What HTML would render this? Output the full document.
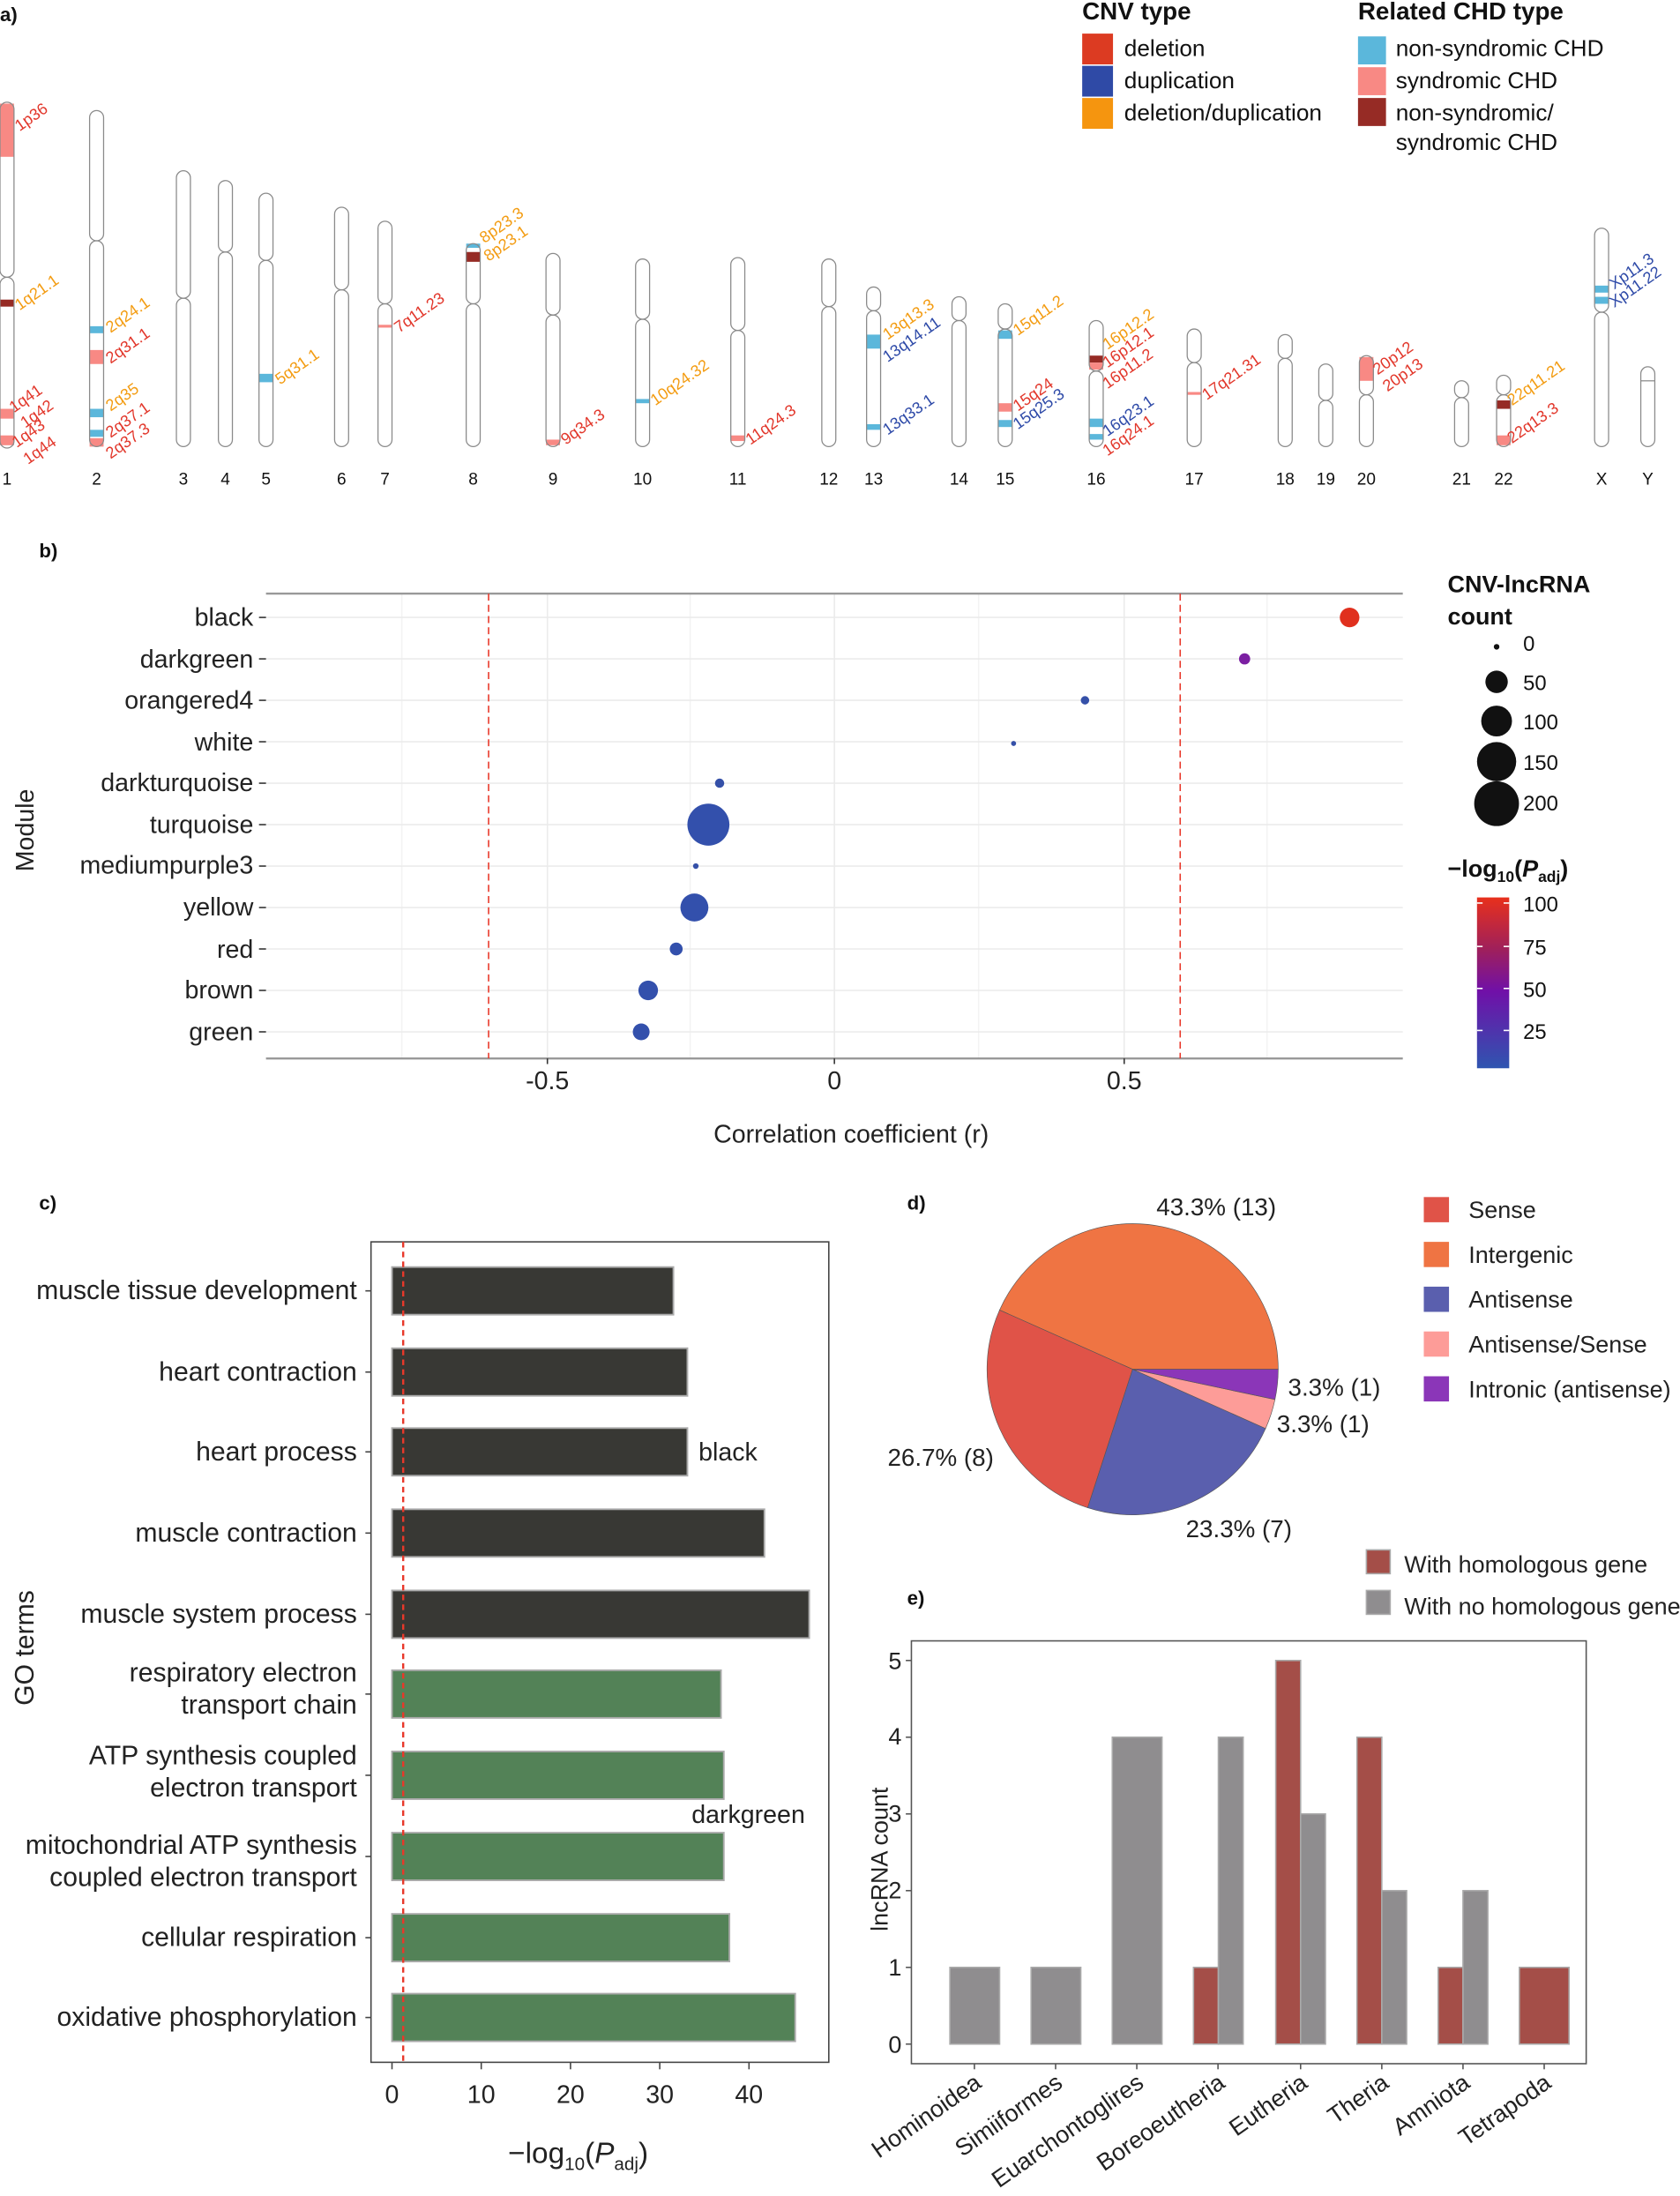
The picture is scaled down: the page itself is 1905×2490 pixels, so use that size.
<!DOCTYPE html>
<html><head><meta charset="utf-8"><style>
html,body{margin:0;padding:0;background:#fff}
svg{display:block}
text{font-family:"Liberation Sans",sans-serif}
</style></head><body>
<svg width="1905" height="2490" viewBox="0 0 1200 1568.5" preserveAspectRatio="none" xmlns="http://www.w3.org/2000/svg">
<rect width="1200" height="1568.5" fill="#fff"/>
<g font-weight="bold" font-size="14" fill="#111">
<text x="0" y="15">a)</text><text x="28" y="398">b)</text><text x="28" y="864">c)</text><text x="648" y="864">d)</text><text x="648" y="1146">e)</text>
</g>
<g font-size="16.5" fill="#111">
<text x="773" y="14" font-weight="bold" font-size="17.5">CNV type</text>
<rect x="773" y="24" width="22" height="22" fill="#dc3b22"/><text x="803" y="40">deletion</text>
<rect x="773" y="47" width="22" height="22" fill="#2f4aa6"/><text x="803" y="63">duplication</text>
<rect x="773" y="70" width="22" height="22" fill="#f5950f"/><text x="803" y="86">deletion/duplication</text>
<text x="970" y="14" font-weight="bold" font-size="17.5">Related CHD type</text>
<rect x="970" y="26" width="20" height="20" fill="#5bb7db"/><text x="997" y="40">non-syndromic CHD</text>
<rect x="970" y="48" width="20" height="20" fill="#f88984"/><text x="997" y="63">syndromic CHD</text>
<rect x="970" y="70" width="20" height="20" fill="#962b25"/><text x="997" y="86">non-syndromic/</text><text x="997" y="107">syndromic CHD</text>
</g>
<g>
<rect x="0" y="74" width="10" height="38" fill="#f88984"/>
<rect x="0" y="214" width="10" height="5" fill="#962b25"/>
<rect x="0" y="292" width="10" height="7" fill="#f88984"/>
<rect x="0" y="311" width="10" height="7" fill="#f88984"/>
<rect x="64" y="233" width="10" height="5" fill="#5bb7db"/>
<rect x="64" y="250" width="10" height="10" fill="#f88984"/>
<rect x="64" y="292" width="10" height="6" fill="#5bb7db"/>
<rect x="64" y="307" width="10" height="5" fill="#5bb7db"/>
<rect x="64" y="313" width="10" height="6" fill="#f88984"/>
<rect x="185" y="267" width="10" height="6" fill="#5bb7db"/>
<rect x="270" y="232" width="10" height="2" fill="#f88984"/>
<rect x="333" y="174" width="10" height="3" fill="#5bb7db"/>
<rect x="333" y="180" width="10" height="7" fill="#962b25"/>
<rect x="390" y="314" width="10" height="4" fill="#f88984"/>
<rect x="454" y="285" width="10" height="3" fill="#5bb7db"/>
<rect x="522" y="311" width="10" height="4" fill="#f88984"/>
<rect x="619" y="239" width="10" height="10" fill="#5bb7db"/>
<rect x="619" y="303" width="10" height="4" fill="#5bb7db"/>
<rect x="713" y="236" width="10" height="6" fill="#5bb7db"/>
<rect x="713" y="288" width="10" height="6" fill="#f88984"/>
<rect x="713" y="300" width="10" height="5" fill="#5bb7db"/>
<rect x="778" y="254" width="10" height="5" fill="#962b25"/>
<rect x="778" y="259" width="10" height="5" fill="#f88984"/>
<rect x="778" y="299" width="10" height="6" fill="#5bb7db"/>
<rect x="778" y="310" width="10" height="4" fill="#5bb7db"/>
<rect x="848" y="280" width="10" height="2" fill="#f88984"/>
<rect x="971" y="255" width="10" height="17" fill="#f88984"/>
<rect x="1069" y="286" width="10" height="6" fill="#962b25"/>
<rect x="1069" y="311" width="10" height="7" fill="#f88984"/>
<rect x="1139" y="204" width="10" height="5" fill="#5bb7db"/>
<rect x="1139" y="212" width="10" height="5" fill="#5bb7db"/>
</g>
<g fill="none" stroke="#8a8a8a" stroke-width="0.8">
<rect x="0" y="73" width="10" height="125" rx="5"/><rect x="0" y="198" width="10" height="122" rx="5"/>
<rect x="64" y="79" width="10" height="93" rx="5"/><rect x="64" y="172" width="10" height="147" rx="5"/>
<rect x="126" y="122" width="10" height="91" rx="5"/><rect x="126" y="213" width="10" height="106" rx="5"/>
<rect x="156" y="129" width="10" height="51" rx="5"/><rect x="156" y="180" width="10" height="139" rx="5"/>
<rect x="185" y="138" width="10" height="48" rx="5"/><rect x="185" y="186" width="10" height="133" rx="5"/>
<rect x="239" y="148" width="10" height="59" rx="5"/><rect x="239" y="207" width="10" height="112" rx="5"/>
<rect x="270" y="158" width="10" height="59" rx="5"/><rect x="270" y="217" width="10" height="102" rx="5"/>
<rect x="333" y="174" width="10" height="43" rx="5"/><rect x="333" y="217" width="10" height="102" rx="5"/>
<rect x="390" y="181" width="10" height="44" rx="5"/><rect x="390" y="225" width="10" height="94" rx="5"/>
<rect x="454" y="185" width="10" height="43" rx="5"/><rect x="454" y="228" width="10" height="91" rx="5"/>
<rect x="522" y="184" width="10" height="52" rx="5"/><rect x="522" y="236" width="10" height="83" rx="5"/>
<rect x="587" y="185" width="10" height="34" rx="5"/><rect x="587" y="219" width="10" height="100" rx="5"/>
<rect x="619" y="205" width="10" height="17" rx="5"/><rect x="619" y="222" width="10" height="97" rx="5"/>
<rect x="680" y="212" width="10" height="17" rx="5"/><rect x="680" y="229" width="10" height="90" rx="5"/>
<rect x="713" y="217" width="10" height="18" rx="5"/><rect x="713" y="235" width="10" height="84" rx="5"/>
<rect x="778" y="229" width="10" height="36" rx="5"/><rect x="778" y="265" width="10" height="54" rx="5"/>
<rect x="848" y="235" width="10" height="24" rx="5"/><rect x="848" y="259" width="10" height="60" rx="5"/>
<rect x="913" y="239" width="10" height="17" rx="5"/><rect x="913" y="256" width="10" height="63" rx="5"/>
<rect x="942" y="260" width="10" height="26" rx="5"/><rect x="942" y="286" width="10" height="33" rx="5"/>
<rect x="971" y="254" width="10" height="28" rx="5"/><rect x="971" y="282" width="10" height="37" rx="5"/>
<rect x="1039" y="272" width="10" height="12" rx="5"/><rect x="1039" y="284" width="10" height="35" rx="5"/>
<rect x="1069" y="268" width="10" height="14" rx="5"/><rect x="1069" y="282" width="10" height="37" rx="5"/>
<rect x="1139" y="163" width="10" height="60" rx="5"/><rect x="1139" y="223" width="10" height="96" rx="5"/>
<rect x="1172" y="262" width="10" height="57" rx="5"/><line x1="1172" y1="272" x2="1182" y2="272"/>
</g>
<g font-size="12" fill="#111" text-anchor="middle">
<text x="5" y="346">1</text><text x="69" y="346">2</text><text x="131" y="346">3</text><text x="161" y="346">4</text><text x="190" y="346">5</text><text x="244" y="346">6</text><text x="275" y="346">7</text><text x="338" y="346">8</text><text x="395" y="346">9</text><text x="459" y="346">10</text><text x="527" y="346">11</text><text x="592" y="346">12</text><text x="624" y="346">13</text><text x="685" y="346">14</text><text x="718" y="346">15</text><text x="783" y="346">16</text><text x="853" y="346">17</text><text x="918" y="346">18</text><text x="947" y="346">19</text><text x="976" y="346">20</text><text x="1044" y="346">21</text><text x="1074" y="346">22</text><text x="1144" y="346">X</text><text x="1177" y="346">Y</text>
</g>
<g font-size="11.5">
<g fill="#e2372b">
<text transform="translate(14,94) rotate(-35)">1p36</text>
<text transform="translate(10,295) rotate(-35)">1q41</text>
<text transform="translate(18,306) rotate(-35)">1q42</text>
<text transform="translate(12,320) rotate(-35)">1q43</text>
<text transform="translate(20,332) rotate(-35)">1q44</text>
<text transform="translate(79,260) rotate(-35)">2q31.1</text>
<text transform="translate(79,313) rotate(-35)">2q37.1</text>
<text transform="translate(79,328) rotate(-35)">2q37.3</text>
<text transform="translate(285,238) rotate(-35)">7q11.23</text>
<text transform="translate(404,318) rotate(-35)">9q34.3</text>
<text transform="translate(536,318) rotate(-35)">11q24.3</text>
<text transform="translate(727,294) rotate(-35)">15q24</text>
<text transform="translate(791,263) rotate(-35)">16p12.1</text>
<text transform="translate(791,278) rotate(-35)">16p11.2</text>
<text transform="translate(791,326) rotate(-35)">16q24.1</text>
<text transform="translate(862,286) rotate(-35)">17q21.31</text>
<text transform="translate(984,268) rotate(-35)">20p12</text>
<text transform="translate(991,280) rotate(-35)">20p13</text>
<text transform="translate(1080,317) rotate(-35)">22q13.3</text>
</g>
<g fill="#f39c12">
<text transform="translate(14,222) rotate(-35)">1q21.1</text>
<text transform="translate(79,238) rotate(-35)">2q24.1</text>
<text transform="translate(79,294) rotate(-35)">2q35</text>
<text transform="translate(200,275) rotate(-35)">5q31.1</text>
<text transform="translate(346,174) rotate(-35)">8p23.3</text>
<text transform="translate(349,187) rotate(-35)">8p23.1</text>
<text transform="translate(468,290) rotate(-35)">10q24.32</text>
<text transform="translate(634,243) rotate(-35)">13q13.3</text>
<text transform="translate(727,240) rotate(-35)">15q11.2</text>
<text transform="translate(791,250) rotate(-35)">16p12.2</text>
<text transform="translate(1080,290) rotate(-35)">22q11.21</text>
</g>
<g fill="#2e4aa8">
<text transform="translate(634,259) rotate(-35)">13q14.11</text>
<text transform="translate(634,311) rotate(-35)">13q33.1</text>
<text transform="translate(727,307) rotate(-35)">15q25.3</text>
<text transform="translate(791,312) rotate(-35)">16q23.1</text>
<text transform="translate(1153,207) rotate(-35)">Xp11.3</text>
<text transform="translate(1153,220) rotate(-35)">Xp11.22</text>
</g>
</g>

<!-- Panel b -->
<g stroke="#ebebeb" stroke-width="1">
<line x1="287" y1="424" x2="287" y2="756" stroke="#f3f3f3"/><line x1="493" y1="424" x2="493" y2="756" stroke="#f3f3f3"/><line x1="699" y1="424" x2="699" y2="756" stroke="#f3f3f3"/><line x1="905" y1="424" x2="905" y2="756" stroke="#f3f3f3"/>
<line x1="391" y1="424" x2="391" y2="756"/><line x1="596" y1="424" x2="596" y2="756"/><line x1="803" y1="424" x2="803" y2="756"/>
<line x1="190" y1="441" x2="1002" y2="441"/><line x1="190" y1="470.6" x2="1002" y2="470.6"/><line x1="190" y1="500.2" x2="1002" y2="500.2"/><line x1="190" y1="529.8" x2="1002" y2="529.8"/><line x1="190" y1="559.4" x2="1002" y2="559.4"/><line x1="190" y1="589" x2="1002" y2="589"/><line x1="190" y1="618.6" x2="1002" y2="618.6"/><line x1="190" y1="648.2" x2="1002" y2="648.2"/><line x1="190" y1="677.8" x2="1002" y2="677.8"/><line x1="190" y1="707.4" x2="1002" y2="707.4"/><line x1="190" y1="737" x2="1002" y2="737"/>
</g>
<line x1="190" y1="424" x2="1002" y2="424" stroke="#999" stroke-width="1.5"/>
<line x1="190" y1="756" x2="1002" y2="756" stroke="#999" stroke-width="1.5"/>
<line x1="349" y1="424" x2="349" y2="756" stroke="#e8382a" stroke-dasharray="5,3"/>
<line x1="843" y1="424" x2="843" y2="756" stroke="#e8382a" stroke-dasharray="5,3"/>
<g>
<circle cx="964" cy="441" r="7" fill="#e0301e"/>
<circle cx="889" cy="470.6" r="4" fill="#7b1fa2"/>
<circle cx="775" cy="500.2" r="3" fill="#3550a8"/>
<circle cx="724" cy="531" r="1.8" fill="#3550a8"/>
<circle cx="514" cy="559.4" r="3.3" fill="#3550a8"/>
<circle cx="506" cy="589" r="15" fill="#3350ac"/>
<circle cx="497" cy="618.6" r="2" fill="#3550a8"/>
<circle cx="496" cy="648.2" r="10" fill="#3350ac"/>
<circle cx="483" cy="677.8" r="4.6" fill="#3350ac"/>
<circle cx="463" cy="707.4" r="7" fill="#3350ac"/>
<circle cx="458" cy="737" r="6" fill="#3350ac"/>
</g>
<g font-size="18" fill="#222" text-anchor="end">
<text x="181" y="447">black</text><text x="181" y="477">darkgreen</text><text x="181" y="506">orangered4</text><text x="181" y="536">white</text><text x="181" y="565">darkturquoise</text><text x="181" y="595">turquoise</text><text x="181" y="624">mediumpurple3</text><text x="181" y="654">yellow</text><text x="181" y="684">red</text><text x="181" y="713">brown</text><text x="181" y="743">green</text>
</g>
<g stroke="#333"><line x1="185" y1="441" x2="190" y2="441"/><line x1="185" y1="470.6" x2="190" y2="470.6"/><line x1="185" y1="500.2" x2="190" y2="500.2"/><line x1="185" y1="529.8" x2="190" y2="529.8"/><line x1="185" y1="559.4" x2="190" y2="559.4"/><line x1="185" y1="589" x2="190" y2="589"/><line x1="185" y1="618.6" x2="190" y2="618.6"/><line x1="185" y1="648.2" x2="190" y2="648.2"/><line x1="185" y1="677.8" x2="190" y2="677.8"/><line x1="185" y1="707.4" x2="190" y2="707.4"/><line x1="185" y1="737" x2="190" y2="737"/>
<line x1="391" y1="756" x2="391" y2="760"/><line x1="596" y1="756" x2="596" y2="760"/><line x1="803" y1="756" x2="803" y2="760"/></g>
<g font-size="18" fill="#222" text-anchor="middle">
<text x="391" y="778">-0.5</text><text x="596" y="778">0</text><text x="803" y="778">0.5</text>
<text x="608" y="816">Correlation coefficient (r)</text>
<text transform="translate(24,593) rotate(-90)">Module</text>
</g>
<g fill="#111" font-size="17">
<text x="1034" y="423" font-weight="bold">CNV-lncRNA</text>
<text x="1034" y="446" font-weight="bold">count</text>
<circle cx="1069" cy="462" r="2" fill="#111"/><text x="1088" y="465" font-size="15">0</text>
<circle cx="1069" cy="487" r="8" fill="#111"/><text x="1088" y="493" font-size="15">50</text>
<circle cx="1069" cy="515" r="11" fill="#111"/><text x="1088" y="521" font-size="15">100</text>
<circle cx="1069" cy="544" r="14" fill="#111"/><text x="1088" y="550" font-size="15">150</text>
<circle cx="1069" cy="574" r="16" fill="#111"/><text x="1088" y="579" font-size="15">200</text>
<text x="1034" y="626" font-weight="bold">−log<tspan font-size="11" dy="4">10</tspan><tspan dy="-4">(</tspan><tspan font-style="italic">P</tspan><tspan font-size="11" dy="4">adj</tspan><tspan dy="-4">)</tspan></text>
</g>
<defs><linearGradient id="cg" x1="0" y1="0" x2="0" y2="1">
<stop offset="0" stop-color="#e8301c"/><stop offset="0.3" stop-color="#a0205a"/><stop offset="0.55" stop-color="#7010a8"/><stop offset="1" stop-color="#2f55b0"/></linearGradient></defs>
<rect x="1055" y="641" width="23" height="122" fill="url(#cg)"/>
<g stroke="#fff" stroke-width="1"><line x1="1055" y1="645" x2="1059" y2="645"/><line x1="1074" y1="645" x2="1078" y2="645"/><line x1="1055" y1="676" x2="1059" y2="676"/><line x1="1074" y1="676" x2="1078" y2="676"/><line x1="1055" y1="706" x2="1059" y2="706"/><line x1="1074" y1="706" x2="1078" y2="706"/><line x1="1055" y1="736" x2="1059" y2="736"/><line x1="1074" y1="736" x2="1078" y2="736"/></g>
<g font-size="15" fill="#111"><text x="1088" y="651">100</text><text x="1088" y="682">75</text><text x="1088" y="712">50</text><text x="1088" y="742">25</text></g>

<!-- Panel c -->
<rect x="265" y="887" width="327" height="586" fill="#fff" stroke="#444" stroke-width="1"/>
<g stroke="#aaa" stroke-width="1.2">
<rect x="280" y="905" width="201" height="34" fill="#383834"/>
<rect x="280" y="963" width="211" height="34" fill="#383834"/>
<rect x="280" y="1020" width="211" height="34" fill="#383834"/>
<rect x="280" y="1078" width="266" height="34" fill="#383834"/>
<rect x="280" y="1136" width="298" height="34" fill="#383834"/>
<rect x="280" y="1193" width="235" height="34" fill="#538257"/>
<rect x="280" y="1251" width="237" height="34" fill="#538257"/>
<rect x="280" y="1309" width="237" height="34" fill="#538257"/>
<rect x="280" y="1367" width="241" height="34" fill="#538257"/>
<rect x="280" y="1424" width="288" height="34" fill="#538257"/>
</g>
<line x1="288" y1="887" x2="288" y2="1473" stroke="#e8382a" stroke-width="1.5" stroke-dasharray="4,3"/>
<g stroke="#444"><line x1="261" y1="922" x2="265" y2="922"/><line x1="261" y1="980" x2="265" y2="980"/><line x1="261" y1="1037" x2="265" y2="1037"/><line x1="261" y1="1095" x2="265" y2="1095"/><line x1="261" y1="1153" x2="265" y2="1153"/><line x1="261" y1="1210" x2="265" y2="1210"/><line x1="261" y1="1268" x2="265" y2="1268"/><line x1="261" y1="1326" x2="265" y2="1326"/><line x1="261" y1="1384" x2="265" y2="1384"/><line x1="261" y1="1441" x2="265" y2="1441"/>
<line x1="280" y1="1473" x2="280" y2="1478"/><line x1="343.75" y1="1473" x2="343.75" y2="1478"/><line x1="407.5" y1="1473" x2="407.5" y2="1478"/><line x1="471.25" y1="1473" x2="471.25" y2="1478"/><line x1="535" y1="1473" x2="535" y2="1478"/></g>
<g font-size="19" fill="#222" text-anchor="end">
<text x="255" y="928">muscle tissue development</text>
<text x="255" y="986">heart contraction</text>
<text x="255" y="1043">heart process</text>
<text x="255" y="1101">muscle contraction</text>
<text x="255" y="1159">muscle system process</text>
<text x="255" y="1201">respiratory electron</text><text x="255" y="1224">transport chain</text>
<text x="255" y="1260">ATP synthesis coupled</text><text x="255" y="1283">electron transport</text>
<text x="255" y="1324">mitochondrial ATP synthesis</text><text x="255" y="1347">coupled electron transport</text>
<text x="255" y="1390">cellular respiration</text>
<text x="255" y="1447">oxidative phosphorylation</text>
</g>
<g font-size="18" fill="#222">
<text x="499" y="1043">black</text><text x="494" y="1302">darkgreen</text>
</g>
<g font-size="18" fill="#222" text-anchor="middle">
<text x="280" y="1502">0</text><text x="343.75" y="1502">10</text><text x="407.5" y="1502">20</text><text x="471.25" y="1502">30</text><text x="535" y="1502">40</text>
<text x="413" y="1545" font-size="21">−log<tspan font-size="13" dy="5">10</tspan><tspan dy="-5">(</tspan><tspan font-style="italic">P</tspan><tspan font-size="13" dy="5">adj</tspan><tspan dy="-5">)</tspan></text>
<text transform="translate(24,1177) rotate(-90)" font-size="19">GO terms</text>
</g>

<!-- Panel d pie -->
<g stroke="#555" stroke-width="0.4">
<path d="M809,978 L714,935.7 A104,104 0 0 1 913,978 Z" fill="#ef7443"/>
<path d="M809,978 L776.9,1076.9 A104,104 0 0 1 714,935.7 Z" fill="#e05348"/>
<path d="M809,978 L904,1020.3 A104,104 0 0 1 776.9,1076.9 Z" fill="#5a5fae"/>
<path d="M809,978 L910.7,999.6 A104,104 0 0 1 904,1020.3 Z" fill="#fd9c98"/>
<path d="M809,978 L913,978 A104,104 0 0 1 910.7,999.6 Z" fill="#8b36b8"/>
</g>
<g font-size="17.5" fill="#222">
<text x="826" y="868">43.3% (13)</text>
<text x="920" y="997">3.3% (1)</text>
<text x="912" y="1023">3.3% (1)</text>
<text x="634" y="1047">26.7% (8)</text>
<text x="847" y="1098">23.3% (7)</text>
</g>
<g font-size="17" fill="#222">
<rect x="1017" y="855" width="18" height="18" fill="#e05348"/><text x="1049" y="870">Sense</text>
<rect x="1017" y="887" width="18" height="18" fill="#ef7443"/><text x="1049" y="902">Intergenic</text>
<rect x="1017" y="919" width="18" height="18" fill="#5a5fae"/><text x="1049" y="934">Antisense</text>
<rect x="1017" y="951" width="18" height="18" fill="#fd9c98"/><text x="1049" y="966">Antisense/Sense</text>
<rect x="1017" y="983" width="18" height="18" fill="#8b36b8"/><text x="1049" y="998">Intronic (antisense)</text>
</g>

<!-- Panel e -->
<g font-size="17" fill="#222">
<rect x="976" y="1107" width="17" height="17" fill="#a44e48" stroke="#aaa"/><text x="1003" y="1123">With homologous gene</text>
<rect x="976" y="1136" width="17" height="17" fill="#8f8d8f" stroke="#aaa"/><text x="1003" y="1153">With no homologous gene</text>
</g>
<rect x="651" y="1172" width="482" height="302" fill="#fff" stroke="#555"/>
<g stroke="#aaa" stroke-width="1">
<rect x="678.5" y="1405.2" width="35.5" height="54.8" fill="#8f8d8f"/>
<rect x="736.5" y="1405.2" width="35.5" height="54.8" fill="#8f8d8f"/>
<rect x="794.5" y="1240.8" width="35.5" height="219.2" fill="#8f8d8f"/>
<rect x="852.5" y="1405.2" width="17.75" height="54.8" fill="#a44e48"/>
<rect x="870.25" y="1240.8" width="17.75" height="219.2" fill="#8f8d8f"/>
<rect x="911.25" y="1186" width="17.75" height="274" fill="#a44e48"/>
<rect x="929" y="1295.6" width="17.75" height="164.4" fill="#8f8d8f"/>
<rect x="969.25" y="1240.8" width="17.75" height="219.2" fill="#a44e48"/>
<rect x="987" y="1350.4" width="17.75" height="109.6" fill="#8f8d8f"/>
<rect x="1027.25" y="1405.2" width="17.75" height="54.8" fill="#a44e48"/>
<rect x="1045" y="1350.4" width="17.75" height="109.6" fill="#8f8d8f"/>
<rect x="1085.25" y="1405.2" width="35.5" height="54.8" fill="#a44e48"/>
</g>
<g stroke="#555">
<line x1="647" y1="1460" x2="651" y2="1460"/><line x1="647" y1="1405.2" x2="651" y2="1405.2"/><line x1="647" y1="1350.4" x2="651" y2="1350.4"/><line x1="647" y1="1295.6" x2="651" y2="1295.6"/><line x1="647" y1="1240.8" x2="651" y2="1240.8"/><line x1="647" y1="1186" x2="651" y2="1186"/>
<line x1="696" y1="1474" x2="696" y2="1478"/><line x1="754" y1="1474" x2="754" y2="1478"/><line x1="812" y1="1474" x2="812" y2="1478"/><line x1="870" y1="1474" x2="870" y2="1478"/><line x1="929" y1="1474" x2="929" y2="1478"/><line x1="987" y1="1474" x2="987" y2="1478"/><line x1="1045" y1="1474" x2="1045" y2="1478"/><line x1="1103" y1="1474" x2="1103" y2="1478"/>
</g>
<g font-size="17" fill="#222" text-anchor="end">
<text x="644" y="1466">0</text><text x="644" y="1411">1</text><text x="644" y="1356">2</text><text x="644" y="1301">3</text><text x="644" y="1246">4</text><text x="644" y="1192">5</text>
<text transform="translate(702,1490) rotate(-35)">Hominoidea</text>
<text transform="translate(760,1490) rotate(-35)">Simiiformes</text>
<text transform="translate(818,1490) rotate(-35)">Euarchontoglires</text>
<text transform="translate(876,1490) rotate(-35)">Boreoeutheria</text>
<text transform="translate(935,1490) rotate(-35)">Eutheria</text>
<text transform="translate(993,1490) rotate(-35)">Theria</text>
<text transform="translate(1051,1490) rotate(-35)">Amniota</text>
<text transform="translate(1109,1490) rotate(-35)">Tetrapoda</text>
</g>
<text transform="translate(634,1328) rotate(-90)" font-size="17" fill="#222" text-anchor="middle">lncRNA count</text>
</svg>
</body></html>
